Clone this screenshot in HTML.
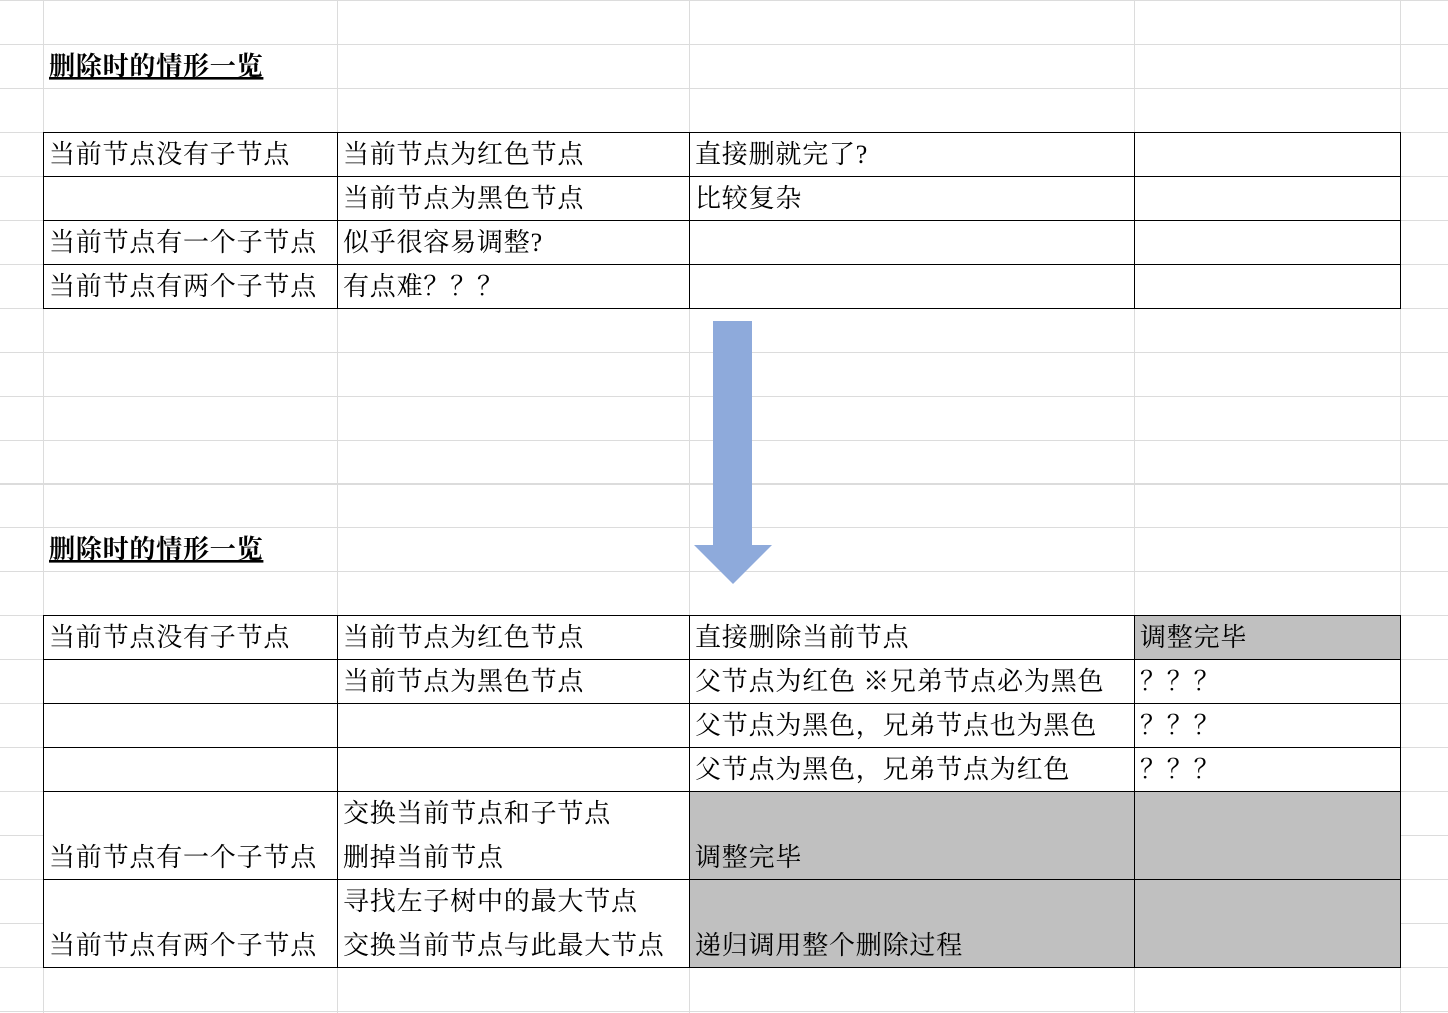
<!DOCTYPE html>
<html><head><meta charset="utf-8"><style>
html,body{margin:0;padding:0;background:#fff;}
svg{display:block}
text{font-family:"Liberation Serif","Noto Serif CJK SC",serif;font-size:26px;fill:#000;letter-spacing:0.8px}
.t{font-weight:bold}
</style></head><body>
<svg width="1448" height="1013" xmlns="http://www.w3.org/2000/svg">
<g stroke="#dcdcdc" stroke-width="1">
<line x1="43.5" y1="0" x2="43.5" y2="1013"/><line x1="337.5" y1="0" x2="337.5" y2="1013"/>
<line x1="689.5" y1="0" x2="689.5" y2="1013"/><line x1="1134.5" y1="0" x2="1134.5" y2="1013"/>
<line x1="1400.5" y1="0" x2="1400.5" y2="1013"/>
<line x1="0" y1="0.5" x2="1448" y2="0.5"/><line x1="0" y1="44.5" x2="1448" y2="44.5"/>
<line x1="0" y1="88.5" x2="1448" y2="88.5"/><line x1="0" y1="132.5" x2="1448" y2="132.5"/>
<line x1="0" y1="176.5" x2="1448" y2="176.5"/><line x1="0" y1="220.5" x2="1448" y2="220.5"/>
<line x1="0" y1="264.5" x2="1448" y2="264.5"/><line x1="0" y1="308.5" x2="1448" y2="308.5"/>
<line x1="0" y1="352.5" x2="1448" y2="352.5"/><line x1="0" y1="396.5" x2="1448" y2="396.5"/>
<line x1="0" y1="440.5" x2="1448" y2="440.5"/><line x1="0" y1="484" x2="1448" y2="484" stroke-width="2"/>
<line x1="0" y1="527.5" x2="1448" y2="527.5"/><line x1="0" y1="571.5" x2="1448" y2="571.5"/>
<line x1="0" y1="615.5" x2="1448" y2="615.5"/><line x1="0" y1="1011.5" x2="1448" y2="1011.5"/>
<line x1="1400" y1="659.5" x2="1448" y2="659.5"/><line x1="1400" y1="703.5" x2="1448" y2="703.5"/>
<line x1="1400" y1="747.5" x2="1448" y2="747.5"/><line x1="1400" y1="791.5" x2="1448" y2="791.5"/>
<line x1="1400" y1="835.5" x2="1448" y2="835.5"/><line x1="1400" y1="879.5" x2="1448" y2="879.5"/>
<line x1="1400" y1="923.5" x2="1448" y2="923.5"/><line x1="0" y1="967.5" x2="1448" y2="967.5"/>
<line x1="0" y1="835.5" x2="43" y2="835.5"/><line x1="0" y1="923.5" x2="43" y2="923.5"/>
<line x1="0" y1="659.5" x2="43" y2="659.5"/><line x1="0" y1="703.5" x2="43" y2="703.5"/>
<line x1="0" y1="747.5" x2="43" y2="747.5"/><line x1="0" y1="791.5" x2="43" y2="791.5"/>
<line x1="0" y1="879.5" x2="43" y2="879.5"/>
</g>
<rect x="43" y="616" width="1358" height="351" fill="#fff"/>
<rect x="1134" y="615" width="266" height="44" fill="#c0c0c0"/>
<rect x="689" y="791" width="711" height="176" fill="#c0c0c0"/>
<g stroke="#000" stroke-width="1" fill="none">
<rect x="43.5" y="132.5" width="1357" height="176"/>
<line x1="43" y1="176.5" x2="1401" y2="176.5"/><line x1="43" y1="220.5" x2="1401" y2="220.5"/>
<line x1="43" y1="264.5" x2="1401" y2="264.5"/>
<line x1="337.5" y1="132" x2="337.5" y2="308"/><line x1="689.5" y1="132" x2="689.5" y2="308"/>
<line x1="1134.5" y1="132" x2="1134.5" y2="308"/>
<rect x="43.5" y="615.5" width="1357" height="352"/>
<line x1="43" y1="659.5" x2="1401" y2="659.5"/><line x1="43" y1="703.5" x2="1401" y2="703.5"/>
<line x1="43" y1="747.5" x2="1401" y2="747.5"/><line x1="43" y1="791.5" x2="1401" y2="791.5"/>
<line x1="43" y1="879.5" x2="1401" y2="879.5"/>
<line x1="337.5" y1="615" x2="337.5" y2="967"/><line x1="689.5" y1="615" x2="689.5" y2="967"/>
<line x1="1134.5" y1="615" x2="1134.5" y2="967"/>
</g>
<polygon points="713,321 752,321 752,545 772,545 733,584 694,545 713,545" fill="#8eaadb"/>
<text class="t" x="49" y="75" text-decoration="underline">删除时的情形一览</text>
<line x1="49" y1="78" x2="263" y2="78" stroke="#000" stroke-width="2"/>
<text x="49" y="163">当前节点没有子节点</text><text x="343" y="163">当前节点为红色节点</text><text x="695" y="163">直接删就完了?</text>
<text x="343" y="207">当前节点为黑色节点</text><text x="695" y="207">比较复杂</text>
<text x="49" y="251">当前节点有一个子节点</text><text x="343" y="251">似乎很容易调整?</text>
<text x="49" y="295">当前节点有两个子节点</text><text x="343" y="295">有点难？？？</text>
<text class="t" x="49" y="558" text-decoration="underline">删除时的情形一览</text>
<line x1="49" y1="561" x2="263" y2="561" stroke="#000" stroke-width="2"/>
<text x="49" y="646">当前节点没有子节点</text><text x="343" y="646">当前节点为红色节点</text><text x="695" y="646">直接删除当前节点</text><text x="1140" y="646">调整完毕</text>
<text x="343" y="690">当前节点为黑色节点</text><text x="695" y="690">父节点为红色 ※兄弟节点必为黑色</text><text x="1140" y="690">？？？</text>
<text x="695" y="734">父节点为黑色，兄弟节点也为黑色</text><text x="1140" y="734">？？？</text>
<text x="695" y="778">父节点为黑色，兄弟节点为红色</text><text x="1140" y="778">？？？</text>
<text x="343" y="822">交换当前节点和子节点</text>
<text x="49" y="866">当前节点有一个子节点</text><text x="343" y="866">删掉当前节点</text><text x="695" y="866">调整完毕</text>
<text x="343" y="910">寻找左子树中的最大节点</text>
<text x="49" y="954">当前节点有两个子节点</text><text x="343" y="954">交换当前节点与此最大节点</text><text x="695" y="954">递归调用整个删除过程</text>
</svg>
</body></html>
